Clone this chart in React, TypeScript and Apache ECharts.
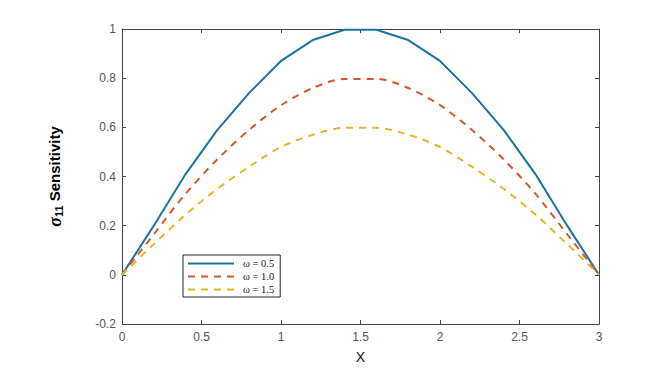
import React, { useEffect, useRef } from "react";
import * as echarts from "echarts";

const xValues = [0, 0.2, 0.4, 0.6, 0.8, 1.0, 1.2, 1.4, 1.6, 1.8, 2.0, 2.2, 2.4, 2.6, 2.8, 3.0];
const blueValues = [0, 0.2, 0.41, 0.59, 0.74, 0.87, 0.955, 0.997, 0.997, 0.955, 0.87, 0.74, 0.59, 0.41, 0.2, 0];
const redValues = [0, 0.165, 0.33, 0.47, 0.59, 0.69, 0.76, 0.797, 0.797, 0.76, 0.69, 0.59, 0.47, 0.33, 0.165, 0];
const yellowValues = [0, 0.125, 0.245, 0.35, 0.44, 0.52, 0.57, 0.598, 0.598, 0.57, 0.52, 0.44, 0.35, 0.245, 0.125, 0];
const seriesNames = ["ω = 0.5", "ω = 1.0", "ω = 1.5"];

export default function App() {
  const ref = useRef<HTMLDivElement>(null);
  useEffect(() => {
    if (!ref.current) return;
    const chart = echarts.init(ref.current, null, { renderer: "svg" });
    const axisColor = "#444";
    const labelColor = "#555";
    const pair = (vals: number[]) => xValues.map((x, i) => [x, vals[i]]);
    const tick = { show: true, inside: true, length: 4, lineStyle: { color: axisColor } };
    const line = { show: true, onZero: false, lineStyle: { color: axisColor } };
    chart.setOption({
      animation: false,
      backgroundColor: "#fff",
      grid: { left: 122, right: 60, top: 29, bottom: 51 },
      xAxis: [
        {
          type: "value",
          min: 0,
          max: 3,
          interval: 0.5,
          name: "X",
          nameLocation: "middle",
          nameGap: 26,
          nameTextStyle: { color: "#111", fontSize: 14, fontFamily: "Liberation Sans" },
          axisLine: line,
          axisTick: tick,
          axisLabel: { color: labelColor, fontSize: 12, fontFamily: "Liberation Sans", margin: 7 },
          splitLine: { show: false },
        },
        {
          type: "value",
          position: "top",
          min: 0,
          max: 3,
          interval: 0.5,
          axisLine: line,
          axisTick: tick,
          axisLabel: { show: false },
          splitLine: { show: false },
        },
      ],
      yAxis: [
        {
          type: "value",
          min: -0.2,
          max: 1,
          interval: 0.2,
          name: "{s|σ}{sub|11}{t| Sensitivity}",
          nameLocation: "middle",
          nameRotate: 90,
          nameGap: 58,
          nameTextStyle: {
            rich: {
              s: { fontSize: 18, fontWeight: "bold", fontStyle: "italic", fontFamily: "Liberation Serif", color: "#000" },
              sub: { fontSize: 11, fontWeight: "bold", fontFamily: "Liberation Sans", color: "#000", padding: [8, 0, 0, 0] },
              t: { fontSize: 15, fontWeight: "bold", fontFamily: "Liberation Sans", color: "#000" },
            },
          },
          axisLine: line,
          axisTick: tick,
          axisLabel: {
            color: labelColor,
            fontSize: 12,
            fontFamily: "Liberation Sans",
            margin: 6,
            formatter: (v: number) => String(Math.round(v * 10) / 10),
          },
          splitLine: { show: false },
        },
        {
          type: "value",
          position: "right",
          min: -0.2,
          max: 1,
          interval: 0.2,
          axisLine: line,
          axisTick: tick,
          axisLabel: { show: false },
          splitLine: { show: false },
        },
      ],
      legend: {
        orient: "vertical",
        left: 183,
        top: 255,
        data: seriesNames,
        backgroundColor: "#fff",
        borderColor: "#222",
        borderWidth: 1,
        borderRadius: 0,
        padding: [3, 6, 2, 4],
        itemWidth: 46,
        itemHeight: 10,
        itemGap: 2,
        itemStyle: { color: "transparent", borderWidth: 0, opacity: 0 },
        textStyle: { fontFamily: "Liberation Serif", fontSize: 10.5, color: "#111", padding: [0, 0, 0, 4] },
      },
      series: [
        {
          name: seriesNames[0],
          type: "line",
          data: pair(blueValues),
          symbol: "none",
          lineStyle: { color: "#1b72a4", width: 2, type: "solid" },
          itemStyle: { color: "#1b72a4" },
        },
        {
          name: seriesNames[1],
          type: "line",
          data: pair(redValues),
          symbol: "none",
          smooth: 0.3,
          lineStyle: { color: "#d4582a", width: 2, type: [7, 6] },
          itemStyle: { color: "#d4582a" },
        },
        {
          name: seriesNames[2],
          type: "line",
          data: pair(yellowValues),
          symbol: "none",
          smooth: 0.3,
          lineStyle: { color: "#e8b52a", width: 2, type: [7, 6] },
          itemStyle: { color: "#e8b52a" },
        },
      ],
    });
    return () => chart.dispose();
  }, []);
  return <div ref={ref} style={{ width: 659, height: 375, position: "absolute", left: 0, top: 0 }} />;
}
